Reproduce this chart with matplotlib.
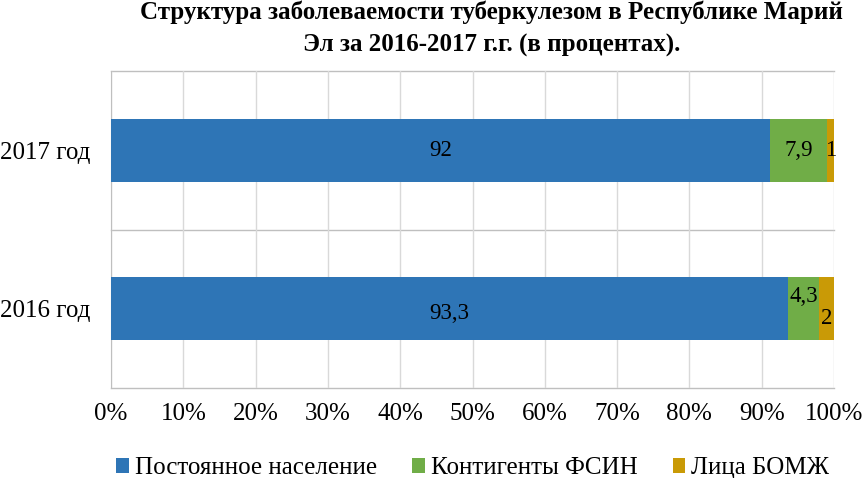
import matplotlib
matplotlib.use("Agg")
import matplotlib.pyplot as plt
import numpy as np

categories = ["2016 год", "2017 год"]
series_names = ["Постоянное население", "Контигенты ФСИН", "Лица БОМЖ"]
permanent = [93.3, 92.0]
fsin = [4.3, 7.9]
bomzh = [2.0, 1.0]
labels_permanent = ["93,3", "92"]
labels_fsin = ["4,3", "7,9"]
labels_bomzh = ["2", "1"]
colors = ["#2E75B6", "#70AD47", "#C99A06"]
xticks = [0, 10, 20, 30, 40, 50, 60, 70, 80, 90, 100]

plt.rcParams["font.family"] = ["Liberation Serif", "DejaVu Serif"]

fig = plt.figure(figsize=(8.63, 4.78), dpi=100)
ax = fig.add_axes([111 / 863, 1 - 388 / 478, (834 - 111) / 863, (388 - 71) / 478])

vals = np.array([permanent, fsin, bomzh], dtype=float)
totals = vals.sum(axis=0)
pct = vals / totals * 100
labs = [labels_permanent, labels_fsin, labels_bomzh]
y = np.arange(len(categories))
left = np.zeros(len(categories))
yoff = {(1, 0): 0.08, (2, 0): -0.06, (0, 0): -0.03}
for i in range(3):
    ax.barh(y, pct[i], left=left, height=0.4, color=colors[i], label=series_names[i], zorder=3)
    for j in range(len(categories)):
        cx = left[j] + pct[i][j] / 2
        ax.text(cx, y[j] + yoff.get((i, j), 0), labs[i][j], ha="center", va="center",
                fontsize=16.5, color="black", zorder=4)
    left += pct[i]

ax.set_xlim(0, 100)
ax.set_ylim(-0.5, 1.5)
ax.set_xticks(xticks)
ax.set_xticklabels([f"{v}%" for v in xticks], fontsize=18)
ax.set_yticks(y)
ax.set_yticklabels(categories, fontsize=18)
ax.tick_params(axis="both", length=0)
ax.tick_params(axis="x", pad=11)
ax.tick_params(axis="y", pad=15)
ax.grid(axis="x", color="#D9D9D9", linewidth=1, zorder=0)
for yy in [-0.5, 0.5, 1.5]:
    ax.axhline(yy, color="#BFBFBF", linewidth=1, zorder=1, clip_on=False)
for s in ["top", "right", "bottom"]:
    ax.spines[s].set_visible(False)
ax.spines["left"].set_color("#BFBFBF")

fig.text(0.570, 0.998, "Структура заболеваемости туберкулезом в Республике Марий\nЭл за 2016-2017 г.г. (в процентах).",
         ha="center", va="top", fontsize=18, fontweight="bold", linespacing=1.5)

fig.legend(loc="lower center", bbox_to_anchor=(0.548, -0.05), ncol=3, frameon=False,
           fontsize=18, handlelength=0.5, handleheight=0.5, handletextpad=0.25, columnspacing=1.4)

fig.savefig("out.png", dpi=100)
